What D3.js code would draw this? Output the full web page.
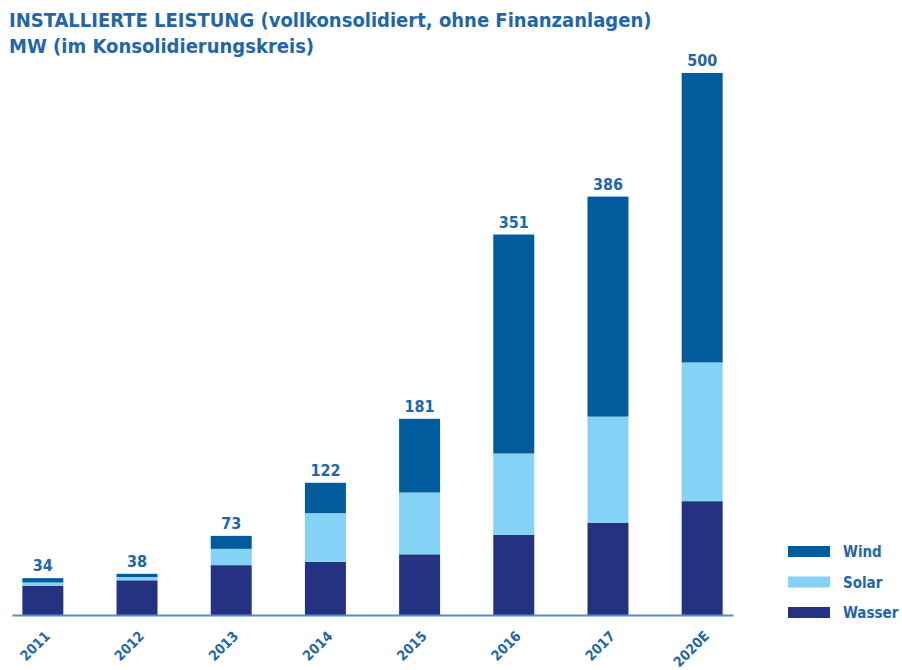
<!DOCTYPE html>
<html>
<head>
<meta charset="utf-8">
<script src="https://cdn.jsdelivr.net/npm/d3@7"></script>
<style>
  body { margin: 0; background: #fff; }
  svg { display: block; }
</style>
</head>
<body>
<div id="chart" style="width:902px;height:670px"></div>
<script>
const years = ['2011', '2012', '2013', '2014', '2015', '2016', '2017', '2020E'];
const wasser = [27, 32, 46, 49, 56, 74, 85, 105];
const solar = [3, 3, 15, 45, 57, 75, 98, 128];
const wind = [4, 3, 12, 28, 68, 202, 203, 267];
const totals = [34, 38, 73, 122, 181, 351, 386, 500];
const seriesNames = ['Wasser', 'Solar', 'Wind'];
const titleLines = ['INSTALLIERTE LEISTUNG (vollkonsolidiert, ohne Finanzanlagen)', 'MW (im Konsolidierungskreis)'];

const width = 902, height = 670;
const textColor = '#1f66aa';
const font = '"DejaVu Sans Condensed", "DejaVu Sans", sans-serif';
const colors = { Wasser: '#253282', Solar: '#84d2f5', Wind: '#005c9d' };

const rows = years.map((y, i) => ({ year: y, Wasser: wasser[i], Solar: solar[i], Wind: wind[i], total: totals[i] }));
const stacked = d3.stack().keys(seriesNames)(rows);

const svg = d3.select('#chart').append('svg')
  .attr('width', width)
  .attr('height', height);

// title
svg.selectAll('text.title')
  .data(titleLines)
  .enter().append('text')
  .attr('class', 'title')
  .attr('x', 9)
  .attr('y', (d, i) => 27 + i * 26)
  .style('font-family', font)
  .style('font-weight', 'bold')
  .style('font-size', '20px')
  .style('fill', textColor)
  .text(d => d);

// scales
const x = d3.scaleBand()
  .domain(years)
  .range([12, 733])
  .paddingInner(0.565)
  .paddingOuter(0.11);

const y = d3.scaleLinear()
  .domain([0, 500])
  .range([615, 73]);

// bars
const layer = svg.selectAll('g.layer')
  .data(stacked)
  .enter().append('g')
  .attr('class', 'layer')
  .attr('fill', d => colors[d.key]);

layer.selectAll('rect')
  .data(d => d)
  .enter().append('rect')
  .attr('x', d => x(d.data.year))
  .attr('y', d => y(d[1]))
  .attr('width', x.bandwidth())
  .attr('height', d => y(d[0]) - y(d[1]));

// total labels
svg.selectAll('text.total')
  .data(rows)
  .enter().append('text')
  .attr('class', 'total')
  .attr('x', d => x(d.year) + x.bandwidth() / 2)
  .attr('y', d => y(d.total) - 7)
  .attr('text-anchor', 'middle')
  .style('font-family', font)
  .style('font-weight', 'bold')
  .style('font-size', '16px')
  .style('fill', textColor)
  .text(d => d.total);

// x axis
const xAxis = d3.axisBottom(x).tickSize(0).tickPadding(0);
const gx = svg.append('g')
  .attr('transform', `translate(0,${y(0)})`)
  .call(xAxis);

gx.select('.domain')
  .attr('stroke', '#4f8fca')
  .attr('stroke-width', 2);

gx.selectAll('.tick text')
  .attr('text-anchor', 'end')
  .attr('y', 0)
  .attr('dy', 0)
  .attr('transform', 'translate(8,22) rotate(-45)')
  .style('font-family', font)
  .style('font-weight', 'bold')
  .style('font-size', '14px')
  .style('fill', textColor);

// legend
const legend = svg.selectAll('g.legend')
  .data(seriesNames.slice().reverse())
  .enter().append('g')
  .attr('class', 'legend')
  .attr('transform', (d, i) => `translate(788,${546 + i * 30.5})`);

legend.append('rect')
  .attr('width', 42)
  .attr('height', 11)
  .attr('fill', d => colors[d]);

legend.append('text')
  .attr('x', 55)
  .attr('y', 11)
  .style('font-family', font)
  .style('font-weight', 'bold')
  .style('font-size', '15px')
  .style('fill', textColor)
  .text(d => d);
</script>
</body>
</html>
